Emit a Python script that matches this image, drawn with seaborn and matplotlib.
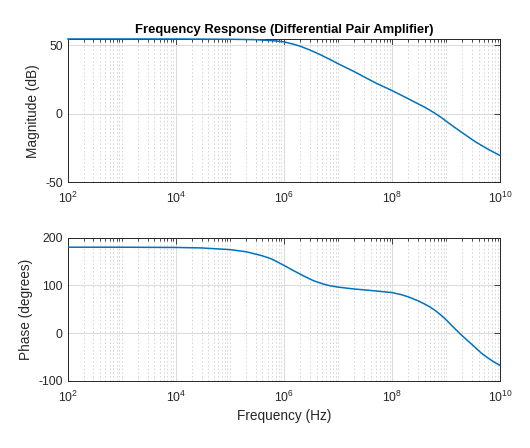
import numpy as np
import pandas as pd
import matplotlib
matplotlib.use("Agg")
import matplotlib.pyplot as plt
import matplotlib.ticker as mticker
import seaborn as sns

# ---- data ----
mag_freq = [1e2, 1e3, 1e4, 1e5, 3e5, 6e5, 1e6, 1.5e6, 2e6, 3e6, 4.5e6, 7e6, 1e7,
            2e7, 3.2e7, 5e7, 1e8, 2e8, 3e8, 4e8, 5e8, 6e8, 8e8, 1e9, 1.4e9, 2e9,
            3.5e9, 6e9, 1e10]
mag_db = [54.4, 54.4, 54.4, 54.2, 53.9, 53.2, 52.3, 50.6, 49.1, 46.4, 43.3, 39.6, 36.4,
          30.6, 26.3, 22.3, 16.8, 10.8, 7.2, 4.7, 2.5, 0.6, -2.6, -5.5, -9.7, -14.0,
          -20.6, -26.0, -30.6]

ph_freq = [1e2, 1e3, 1e4, 3e4, 1e5, 2e5, 4e5, 6e5, 1e6, 1.5e6, 2.3e6, 3.5e6, 5.3e6, 7e6,
           1e7, 2e7, 4e7, 6e7, 1e8, 1.5e8, 2e8, 3e8, 4e8, 5e8, 6e8, 8e8, 1e9, 1.35e9,
           1.8e9, 2.4e9, 3.2e9, 4.5e9, 6.3e9, 8e9, 1e10]
ph_deg = [180, 180, 179.5, 178.5, 175, 170.5, 162, 155, 142, 131, 120, 110, 103, 99.5,
          96.5, 92.5, 89.5, 87.5, 85, 80.5, 76, 68, 61, 55, 49, 38, 28, 13,
          -1, -14, -26.5, -42, -54, -61.5, -67.5]

title = "Frequency Response (Differential Pair Amplifier)"
mag_label = "Magnitude (dB)"
ph_label = "Phase (degrees)"
x_label = "Frequency (Hz)"
x_ticks = [1e2, 1e4, 1e6, 1e8, 1e10]
mag_ticks = [-50, 0, 50]
ph_ticks = [-100, 0, 100, 200]

# ---- style ----
sns.set_style("white")
plt.rcParams['font.family'] = ['Liberation Sans', 'DejaVu Sans']
plt.rcParams['mathtext.fontset'] = 'custom'
plt.rcParams['mathtext.rm'] = 'Liberation Sans'
plt.rcParams['mathtext.it'] = 'Liberation Sans'
plt.rcParams['mathtext.bf'] = 'Liberation Sans:bold'
plt.rcParams['axes.unicode_minus'] = False

line_color = "#0072BD"
dark = "#262626"

fig = plt.figure(figsize=(5.3, 4.48), dpi=100)
ax1 = fig.add_axes([0.1277, 0.5931, 0.8162, 0.3199])
ax2 = fig.add_axes([0.1277, 0.1496, 0.8162, 0.3199])

df_mag = pd.DataFrame({"f": mag_freq, "v": mag_db})
df_ph = pd.DataFrame({"f": ph_freq, "v": ph_deg})

sns.lineplot(data=df_mag, x="f", y="v", ax=ax1, color=line_color, linewidth=1.1,
             clip_on=False, zorder=5)
sns.lineplot(data=df_ph, x="f", y="v", ax=ax2, color=line_color, linewidth=1.1,
             zorder=5)

minor_locs = [k * 10.0**n for n in range(2, 10) for k in range(1, 10)]

for ax, ylim, yt, yl in [(ax1, (-50, 54.4), mag_ticks, mag_label),
                         (ax2, (-100, 200), ph_ticks, ph_label)]:
    ax.set_xscale("log")
    ax.set_xlim(1e2, 1e10)
    ax.set_ylim(*ylim)
    ax.xaxis.set_major_locator(mticker.FixedLocator(x_ticks))
    ax.xaxis.set_minor_locator(mticker.FixedLocator(minor_locs))
    ax.xaxis.set_major_formatter(mticker.LogFormatterSciNotation())
    ax.xaxis.set_minor_formatter(mticker.NullFormatter())
    ax.yaxis.set_major_locator(mticker.FixedLocator(yt))
    ax.yaxis.set_major_formatter(mticker.FormatStrFormatter("%d"))
    ax.yaxis.set_minor_locator(mticker.NullLocator())
    ax.grid(True, which="major", color="#dcdcdc", linewidth=0.8, linestyle="-")
    ax.grid(True, which="minor", axis="x", color="#d2d2d2", linewidth=0.6,
            linestyle=(0, (2, 2.5)))
    ax.set_axisbelow(True)
    ax.tick_params(which="both", direction="in", top=True, right=True,
                   colors=dark, labelsize=8.8, width=0.6, labelcolor=dark)
    ax.tick_params(which="major", length=4)
    ax.tick_params(which="minor", length=2)
    ax.tick_params(axis="x", which="major", pad=6)
    for s in ax.spines.values():
        s.set_color(dark)
        s.set_linewidth(0.7)
        s.set_visible(True)
    ax.set_ylabel(yl, fontsize=9.8, color=dark, labelpad=4)
    ax.set_xlabel("")

ax1.set_title(title, fontsize=9.4, fontweight="bold", color="black", pad=4)
ax2.set_xlabel(x_label, fontsize=9.8, color=dark, labelpad=3)

fig.savefig("out.png", dpi=100)
